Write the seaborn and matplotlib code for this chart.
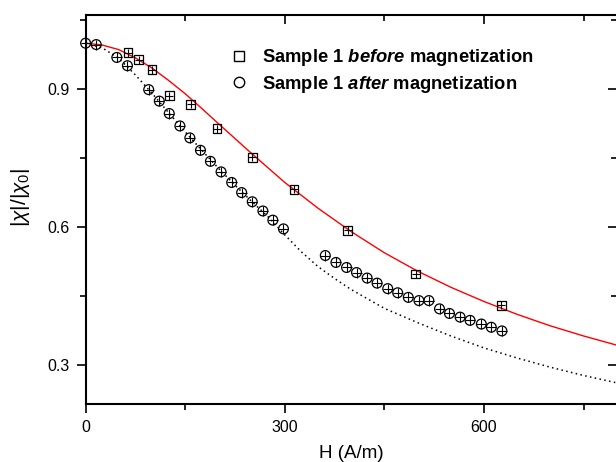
import matplotlib
matplotlib.use("Agg")
import matplotlib.pyplot as plt
from matplotlib.lines import Line2D
import seaborn as sns

# measured points, sample 1 before magnetization
h_before = [64, 80, 100, 126, 158, 198, 251, 314, 395, 497, 626]
chi_before = [0.979, 0.964, 0.942, 0.886, 0.867, 0.814, 0.752, 0.682, 0.593, 0.498, 0.430]

# measured points, sample 1 after magnetization
h_after = [0, 16, 47, 63, 95, 111, 126, 142, 157, 173, 188, 204, 220, 235, 251, 267, 282, 298,
           361, 377, 393, 408, 424, 439, 455, 470, 486, 502, 517, 533, 548, 564, 579, 596, 611, 627]
chi_after = [1.000, 0.997, 0.969, 0.951, 0.899, 0.874, 0.847, 0.820, 0.794, 0.767, 0.743, 0.720,
             0.697, 0.675, 0.655, 0.635, 0.615, 0.596, 0.538, 0.523, 0.512, 0.501, 0.489, 0.478,
             0.466, 0.457, 0.447, 0.440, 0.440, 0.422, 0.412, 0.404, 0.397, 0.389, 0.382, 0.374]

# red solid curve
h_red = [0, 25, 50, 75, 100, 125, 150, 175, 200, 250, 300, 350, 400, 450, 500, 550, 600, 650,
         700, 750, 800]
chi_red = [1.000, 0.996, 0.986, 0.968, 0.946, 0.919, 0.890, 0.858, 0.825, 0.760, 0.697, 0.641,
           0.590, 0.544, 0.504, 0.469, 0.438, 0.410, 0.385, 0.363, 0.343]

# black dotted curve
h_dot = [0, 25, 50, 75, 100, 125, 150, 175, 200, 225, 250, 275, 300, 325, 350, 375, 400, 450,
         500, 550, 600, 650, 700, 750, 800]
chi_dot = [1.000, 0.990, 0.967, 0.931, 0.891, 0.849, 0.807, 0.767, 0.728, 0.691, 0.656, 0.622,
           0.583, 0.546, 0.514, 0.488, 0.464, 0.423, 0.392, 0.363, 0.337, 0.315, 0.295, 0.277,
           0.261]

x_major = [0, 300, 600]
x_minor = [150, 450, 750]
y_major = [0.3, 0.6, 0.9]
y_minor = [0.45, 0.75, 1.05]

sns.set_theme(style="ticks")
plt.rcParams["font.family"] = ["Liberation Sans", "DejaVu Sans"]
plt.rcParams["text.color"] = "black"
plt.rcParams["mathtext.fontset"] = "custom"
plt.rcParams["mathtext.rm"] = "Liberation Sans"
plt.rcParams["mathtext.it"] = "Liberation Sans:italic"
plt.rcParams["mathtext.bf"] = "Liberation Sans:bold"
plt.rcParams["mathtext.bfit"] = "Liberation Sans:bold:italic"

fig = plt.figure(figsize=(6.16, 4.62), dpi=100)
ax = fig.add_axes([85.6 / 616, 58 / 462, (616.8 - 85.6) / 616, (404 - 14.7) / 462])

sns.lineplot(x=h_red, y=chi_red, color="red", linewidth=1.0, ax=ax, zorder=2)
sns.lineplot(x=h_dot, y=chi_dot, color="black", linewidth=1.1, linestyle=(0, (1, 2.2)), ax=ax, zorder=2)

sns.scatterplot(x=h_before, y=chi_before, marker="s", s=40, facecolor="none", edgecolor="black",
                linewidth=0.9, ax=ax, zorder=3)
sns.scatterplot(x=h_after, y=chi_after, marker="o", s=50, facecolor="none", edgecolor="black",
                linewidth=0.9, ax=ax, zorder=3, clip_on=False)
# small error crosses inside each marker
ax.scatter(h_before, chi_before, marker="+", s=40, color="black", linewidth=0.8, zorder=4)
ax.scatter(h_after, chi_after, marker="+", s=45, color="black", linewidth=0.8, zorder=4, clip_on=False)

ax.set_xlim(0, 800)
ax.set_ylim(0.215, 1.062)
ax.set_xticks(x_major)
ax.set_xticks(x_minor, minor=True)
ax.set_yticks(y_major)
ax.set_yticks(y_minor, minor=True)

for side in ["left", "bottom", "top"]:
    ax.spines[side].set_linewidth(1.5)
    ax.spines[side].set_color("black")
ax.spines["right"].set_visible(False)

ax.tick_params(axis="both", which="major", labelsize=11.5, length=6.5, width=1.2, color="black",
               labelcolor="black", pad=5, direction="out")
ax.tick_params(axis="both", which="minor", length=4, width=1.2, color="black", direction="out")

# top and right ticks point inward
top = ax.secondary_xaxis("top")
top.set_xticks(x_major)
top.set_xticks(x_minor, minor=True)
top.tick_params(which="both", direction="in", labeltop=False, color="black", width=1.2)
top.tick_params(which="major", length=6.5)
top.tick_params(which="minor", length=4)
top.spines["top"].set_visible(False)

right = ax.secondary_yaxis("right")
right.set_yticks(y_major)
right.set_yticks(y_minor, minor=True)
right.tick_params(which="both", direction="in", labelright=False, color="black", width=1.2)
right.tick_params(which="major", length=6.5)
right.tick_params(which="minor", length=4)
right.spines["right"].set_visible(False)

ax.set_xlabel("H (A/m)", fontsize=13.5, labelpad=7, color="black")
ax.set_ylabel(r"$|\chi|/|\chi_0|$", fontsize=15, color="black")
ax.yaxis.set_label_coords(32 / 616, (462 - 197) / 462, transform=fig.transFigure)

handles = [
    Line2D([], [], marker="s", linestyle="none", markersize=7, markerfacecolor="none",
           markeredgecolor="black", markeredgewidth=1.0),
    Line2D([], [], marker="o", linestyle="none", markersize=7.5, markerfacecolor="none",
           markeredgecolor="black", markeredgewidth=1.0),
]
labels = [r"Sample 1 $\mathbfit{before}$ magnetization", r"Sample 1 $\mathbfit{after}$ magnetization"]
ax.legend(handles, labels, frameon=False, loc="upper left", bbox_to_anchor=(221 / 616, 1 - 38 / 462),
          bbox_transform=fig.transFigure, prop={"weight": "bold", "size": 13.2}, handletextpad=0.75,
          labelspacing=0.3, borderpad=0, handlelength=1.0)

fig.savefig("out.png", dpi=100)
